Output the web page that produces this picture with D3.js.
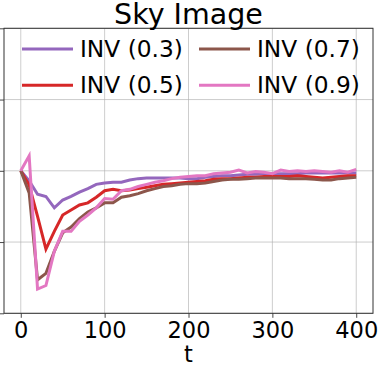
<!DOCTYPE html>
<html>
<head>
<meta charset="utf-8">
<script src="https://cdn.jsdelivr.net/npm/d3@7"></script>
<style>
  html, body { margin: 0; padding: 0; background: #fff; }
  svg { display: block; font-family: "DejaVu Sans", sans-serif; }
</style>
</head>
<body>
<div id="chart"></div>
<script>
// --- Data (t every 10 steps) ---
const steps = d3.range(0, 401, 10);
const xTicks = [0, 100, 200, 300, 400];
const yTicks = [0.6, 0.7, 0.8, 0.9, 1.0];

const inv03 = [0.800, 0.786, 0.767, 0.764, 0.748, 0.759, 0.764, 0.770, 0.775, 0.781,
               0.783, 0.784, 0.784, 0.787, 0.789, 0.790, 0.790, 0.790, 0.790, 0.790,
               0.789, 0.789, 0.791, 0.792, 0.793, 0.793, 0.794, 0.795, 0.795, 0.796,
               0.796, 0.796, 0.796, 0.796, 0.797, 0.797, 0.797, 0.797, 0.797, 0.797, 0.797];
const inv05 = [0.800, 0.780, 0.736, 0.690, 0.715, 0.738, 0.745, 0.752, 0.755, 0.763,
               0.772, 0.774, 0.772, 0.773, 0.775, 0.777, 0.779, 0.781, 0.782, 0.783,
               0.784, 0.785, 0.786, 0.788, 0.789, 0.789, 0.790, 0.791, 0.791, 0.792,
               0.792, 0.792, 0.792, 0.793, 0.792, 0.791, 0.790, 0.791, 0.792, 0.793, 0.793];
const inv07 = [0.800, 0.769, 0.647, 0.656, 0.687, 0.713, 0.721, 0.733, 0.742, 0.748,
               0.755, 0.755, 0.763, 0.765, 0.768, 0.772, 0.775, 0.778, 0.779, 0.781,
               0.782, 0.782, 0.783, 0.785, 0.787, 0.788, 0.788, 0.789, 0.790, 0.790,
               0.790, 0.790, 0.789, 0.789, 0.789, 0.788, 0.787, 0.787, 0.789, 0.790, 0.791];
const inv09 = [0.800, 0.821, 0.634, 0.639, 0.687, 0.715, 0.715, 0.729, 0.738, 0.748,
               0.761, 0.760, 0.772, 0.774, 0.778, 0.781, 0.784, 0.786, 0.789, 0.791,
               0.792, 0.793, 0.793, 0.796, 0.797, 0.798, 0.801, 0.797, 0.799, 0.798,
               0.796, 0.801, 0.799, 0.800, 0.799, 0.800, 0.799, 0.798, 0.800, 0.798, 0.802];

const seriesNames = ["INV (0.3)", "INV (0.5)", "INV (0.7)", "INV (0.9)"];
const seriesValues = [inv03, inv05, inv07, inv09];
const seriesColors = ["#9467bd", "#d62728", "#8c564b", "#e377c2"];

// --- Layout ---
const W = 378, H = 366;
const plot = {left: 4, right: 373, top: 28.3, bottom: 313.3};

const svg = d3.select("#chart").append("svg")
    .attr("width", W).attr("height", H);

const x = d3.scaleLinear().domain([-20, 420]).range([plot.left, plot.right]);
const y = d3.scaleLinear().domain([0.6, 1.0]).range([plot.bottom, plot.top]);

// Gridlines
const grid = svg.append("g").attr("class", "grid");
grid.selectAll("line.vx").data(xTicks).enter().append("line")
    .attr("x1", d => x(d)).attr("x2", d => x(d))
    .attr("y1", plot.top).attr("y2", plot.bottom)
    .attr("stroke", "#b0b0b0").attr("stroke-width", 0.8).attr("stroke-opacity", 0.8);
grid.selectAll("line.hy").data(yTicks).enter().append("line")
    .attr("x1", plot.left).attr("x2", plot.right)
    .attr("y1", d => y(d)).attr("y2", d => y(d))
    .attr("stroke", "#b0b0b0").attr("stroke-width", 0.8).attr("stroke-opacity", 0.8);

// Lines
const line = d3.line()
    .x((d, i) => x(steps[i]))
    .y(d => y(d));

svg.append("g").selectAll("path")
    .data(seriesValues).enter().append("path")
    .attr("d", line)
    .attr("fill", "none")
    .attr("stroke", (d, i) => seriesColors[i])
    .attr("stroke-width", 3)
    .attr("stroke-linejoin", "miter")
    .attr("stroke-linecap", "butt");

// Axes
const xAxis = d3.axisBottom(x).tickValues(xTicks).tickSize(4.5).tickPadding(4);
svg.append("g")
    .attr("transform", `translate(0,${plot.bottom})`)
    .call(xAxis)
    .call(g => g.select(".domain").remove())
    .call(g => g.selectAll(".tick line").attr("stroke", "#333").attr("stroke-width", 0.9))
    .call(g => g.selectAll(".tick text")
        .attr("font-size", 22.5).attr("fill", "#000")
        .attr("font-family", "DejaVu Sans, sans-serif"));

const yAxis = d3.axisLeft(y).tickValues(yTicks).tickSize(4.5).tickFormat("");
svg.append("g")
    .attr("transform", `translate(${plot.left},0)`)
    .call(yAxis)
    .call(g => g.select(".domain").remove())
    .call(g => g.selectAll(".tick line").attr("stroke", "#333").attr("stroke-width", 0.9));

// Frame
svg.append("rect")
    .attr("x", plot.left).attr("y", plot.top)
    .attr("width", plot.right - plot.left).attr("height", plot.bottom - plot.top)
    .attr("fill", "none").attr("stroke", "#333").attr("stroke-width", 1);

// Title and x label
svg.append("text")
    .attr("x", (plot.left + plot.right) / 2).attr("y", 23.5)
    .attr("text-anchor", "middle").attr("font-size", 28.5)
    .text("Sky Image");

svg.append("text")
    .attr("x", (plot.left + plot.right) / 2).attr("y", 362)
    .attr("text-anchor", "middle").attr("font-size", 22.5)
    .text("t");

// Legend (2 columns, filled column-wise, no frame)
const legendCols = [22, 199];
const legendRows = [49, 85.3];
const legend = svg.append("g").attr("class", "legend");
seriesNames.forEach((name, i) => {
    const col = Math.floor(i / 2), row = i % 2;
    const lx = legendCols[col], ly = legendRows[row];
    legend.append("line")
        .attr("x1", lx).attr("x2", lx + 51)
        .attr("y1", ly).attr("y2", ly)
        .attr("stroke", seriesColors[i]).attr("stroke-width", 3);
    legend.append("text")
        .attr("x", lx + 58).attr("y", ly + 8)
        .attr("font-size", 23.3)
        .text(name);
});
</script>
</body>
</html>
